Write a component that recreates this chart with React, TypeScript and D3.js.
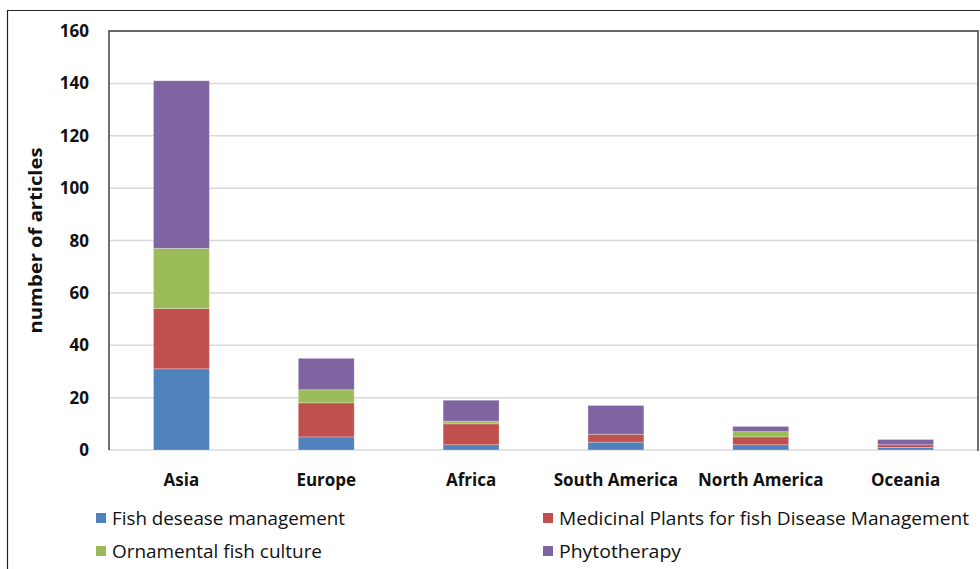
import React, { useMemo } from "react";
import * as d3 from "d3";

const regions = ["Asia", "Europe", "Africa", "South America", "North America", "Oceania"];
const seriesNames = [
  "Fish desease management",
  "Medicinal Plants for fish Disease Management",
  "Ornamental fish culture",
  "Phytotherapy",
];
const seriesColors = ["#4F81BD", "#C0504D", "#9BBB59", "#8064A2"];
const fishDisease = [31, 5, 2, 3, 2, 1];
const medicinalPlants = [23, 13, 8, 3, 3, 1];
const ornamental = [23, 5, 1, 0, 2, 0];
const phytotherapy = [64, 12, 8, 11, 2, 2];
const yTicks = [0, 20, 40, 60, 80, 100, 120, 140, 160];

const W = 980;
const H = 569;
const plot = { left: 109, right: 978, top: 31, bottom: 450 };
const FONT = "'Open Sans', 'DejaVu Sans', sans-serif";

export default function App() {
  const x = useMemo(
    () =>
      d3
        .scaleBand<string>()
        .domain(regions)
        .range([plot.left, plot.right])
        .paddingInner(0.614)
        .paddingOuter(0.307),
    []
  );
  const y = useMemo(() => d3.scaleLinear().domain([0, 160]).range([plot.bottom, plot.top]), []);

  const stacked = useMemo(() => {
    const rows = regions.map((r, i) => ({
      region: r,
      s0: fishDisease[i],
      s1: medicinalPlants[i],
      s2: ornamental[i],
      s3: phytotherapy[i],
    }));
    return d3.stack<any>().keys(["s0", "s1", "s2", "s3"])(rows);
  }, []);

  const legendItems = [
    { x: 96, y: 519, w: 233 },
    { x: 543, y: 519, w: 410 },
    { x: 96, y: 552, w: 210 },
    { x: 543, y: 552, w: 122 },
  ];

  return (
    <svg
      width={W}
      height={H}
      style={{ position: "absolute", left: 0, top: 0, background: "#fff" }}
      fontFamily={FONT}
    >
      <rect x={0} y={0} width={W} height={H} fill="#fff" />
      {/* outer frame */}
      <path d={`M7.5,${H} V10.5 H${W}`} fill="none" stroke="#222" strokeWidth={1.2} />

      {/* gridlines */}
      {yTicks.map((t) => (
        <line
          key={t}
          x1={plot.left}
          x2={plot.right}
          y1={y(t)}
          y2={y(t)}
          stroke="#d9d9d9"
          strokeWidth={1.5}
        />
      ))}

      {/* plot area border */}
      <path
        d={`M${plot.left},${plot.bottom} V${plot.top} H${plot.right} V${plot.bottom + 1}`}
        fill="none"
        stroke="#404040"
        strokeWidth={1.5}
      />

      {/* stacked bars */}
      {stacked.map((layer, li) => (
        <g key={layer.key}>
          {layer.map((d, i) => {
            const h = y(d[0]) - y(d[1]);
            if (h <= 0) return null;
            return (
              <rect
                key={regions[i]}
                x={x(regions[i])}
                y={y(d[1])}
                width={x.bandwidth()}
                height={h}
                fill={seriesColors[li]}
                stroke="#ffffff"
                strokeOpacity={0.35}
                strokeWidth={0.8}
              />
            );
          })}
        </g>
      ))}

      {/* y tick labels */}
      {yTicks.map((t) => (
        <text
          key={t}
          x={89}
          y={y(t)}
          dy="0.36em"
          textAnchor="end"
          fontSize={17}
          fontWeight={700}
          fill="#111"
        >
          {t}
        </text>
      ))}

      {/* y axis title */}
      <text
        transform={`translate(36,${(plot.top + plot.bottom) / 2}) rotate(-90)`}
        textAnchor="middle"
        dy="0.36em"
        fontSize={18}
        fontWeight={700}
        fill="#111"
        textLength={186}
        lengthAdjust="spacingAndGlyphs"
      >
        number of articles
      </text>

      {/* category labels */}
      {regions.map((r) => (
        <text
          key={r}
          x={(x(r) as number) + x.bandwidth() / 2}
          y={480}
          dy="0.36em"
          textAnchor="middle"
          fontSize={17}
          fontWeight={700}
          fill="#111"
        >
          {r}
        </text>
      ))}

      {/* legend */}
      {seriesNames.map((name, i) => {
        const it = legendItems[i];
        return (
          <g key={name}>
            <rect x={it.x} y={it.y - 6} width={10} height={10} fill={seriesColors[i]} />
            <text
              x={it.x + 16}
              y={it.y}
              dy="0.36em"
              fontSize={18}
              fill="#111"
              textLength={it.w}
              lengthAdjust="spacingAndGlyphs"
            >
              {name}
            </text>
          </g>
        );
      })}
    </svg>
  );
}
